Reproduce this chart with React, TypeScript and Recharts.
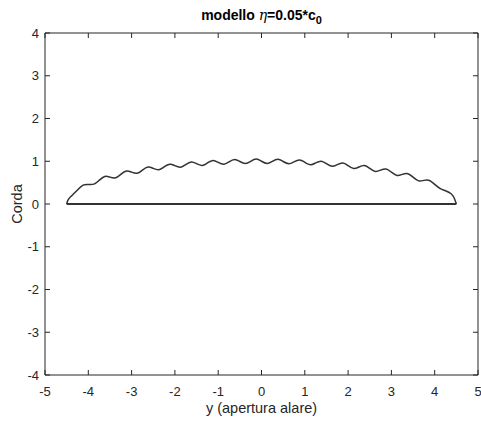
import React from 'react';
import { LineChart, Line, XAxis, YAxis } from 'recharts';

const spanPos = [-4.5, -4.47, -4.42, -4.37, -4.25, -4.12, -4.0, -3.87, -3.75, -3.62, -3.5, -3.37, -3.25, -3.12, -3.0, -2.87, -2.75, -2.62, -2.5, -2.37, -2.25, -2.12, -2.0, -1.87, -1.75, -1.62, -1.5, -1.37, -1.25, -1.12, -1.0, -0.87, -0.75, -0.62, -0.5, -0.37, -0.25, -0.12, 0.0, 0.13, 0.25, 0.38, 0.5, 0.63, 0.75, 0.88, 1.0, 1.13, 1.25, 1.38, 1.5, 1.63, 1.75, 1.88, 2.0, 2.13, 2.25, 2.38, 2.5, 2.63, 2.75, 2.88, 3.0, 3.13, 3.25, 3.38, 3.5, 3.63, 3.75, 3.88, 4.0, 4.13, 4.25, 4.38, 4.45, 4.5];
const chordValues = [0, 0.09, 0.16, 0.205, 0.329, 0.44, 0.458, 0.465, 0.553, 0.644, 0.629, 0.613, 0.692, 0.771, 0.745, 0.72, 0.792, 0.863, 0.832, 0.8, 0.866, 0.932, 0.896, 0.86, 0.921, 0.983, 0.943, 0.903, 0.961, 1.019, 0.975, 0.931, 0.986, 1.041, 0.994, 0.947, 0.998, 1.05, 1.0, 0.95, 0.998, 1.046, 0.994, 0.94, 0.986, 1.031, 0.975, 0.918, 0.961, 1.002, 0.943, 0.882, 0.921, 0.959, 0.896, 0.831, 0.866, 0.899, 0.832, 0.761, 0.792, 0.818, 0.745, 0.669, 0.692, 0.71, 0.629, 0.541, 0.553, 0.55, 0.458, 0.36, 0.31, 0.24, 0.14, 0];
const baseSpan = [-4.5, 4.5];
const baseValues = [0, 0];

const xTicks = [-5, -4, -3, -2, -1, 0, 1, 2, 3, 4, 5];
const yTicks = [-4, -3, -2, -1, 0, 1, 2, 3, 4];

const chordData = spanPos.map((x, i) => ({ x, c: chordValues[i] }));
const baseData = baseSpan.map((x, i) => ({ x, c: baseValues[i] }));

const AX = '#262626';
const FONT = '"Liberation Sans", Arial, Helvetica, sans-serif';
const TL = 5;

const BottomTick = (p: any) => (
  <g>
    <line x1={p.x} x2={p.x} y1={p.y} y2={p.y - TL} stroke={AX} strokeWidth={1} />
    <text x={p.x} y={p.y + 21} textAnchor="middle" fill={AX} fontSize={13} fontFamily={FONT}>
      {p.payload.value}
    </text>
  </g>
);
const TopTick = (p: any) => (
  <line x1={p.x} x2={p.x} y1={p.y} y2={p.y + TL} stroke={AX} strokeWidth={1} />
);
const LeftTick = (p: any) => (
  <g>
    <line x1={p.x} x2={p.x + TL} y1={p.y} y2={p.y} stroke={AX} strokeWidth={1} />
    <text x={p.x - 6} y={p.y + 4.5} textAnchor="end" fill={AX} fontSize={13} fontFamily={FONT}>
      {p.payload.value}
    </text>
  </g>
);
const RightTick = (p: any) => (
  <line x1={p.x} x2={p.x - TL} y1={p.y} y2={p.y} stroke={AX} strokeWidth={1} />
);

export default function App() {
  return (
    <div style={{ position: 'absolute', left: 0, top: 0, width: 481, height: 424, background: '#fff', fontFamily: FONT }}>
      <LineChart width={481} height={424} margin={{ top: 32, right: 2, bottom: 48, left: 0 }}>
        <XAxis xAxisId="b" type="number" dataKey="x" domain={[-5, 5]} ticks={xTicks} allowDataOverflow
          height={1} tickSize={0} tickMargin={0} tick={<BottomTick />} stroke={AX} interval={0} />
        <XAxis xAxisId="t" orientation="top" type="number" dataKey="x" domain={[-5, 5]} ticks={xTicks} allowDataOverflow
          height={1} tickSize={0} tickMargin={0} tick={<TopTick />} stroke={AX} interval={0} />
        <YAxis yAxisId="l" type="number" domain={[-4, 4]} ticks={yTicks} allowDataOverflow
          width={45} tickSize={0} tickMargin={0} tick={<LeftTick />} stroke={AX} interval={0} />
        <YAxis yAxisId="r" orientation="right" type="number" domain={[-4, 4]} ticks={yTicks} allowDataOverflow
          width={1} tickSize={0} tickMargin={0} tick={<RightTick />} stroke={AX} interval={0} />
        <Line xAxisId="b" yAxisId="l" data={baseData} dataKey="c" type="linear" stroke="#333" strokeWidth={2}
          dot={false} isAnimationActive={false} />
        <Line xAxisId="b" yAxisId="l" data={chordData} dataKey="c" type="natural" stroke="#333" strokeWidth={1.5}
          dot={false} isAnimationActive={false} />
        <Line xAxisId="t" yAxisId="r" data={baseData} dataKey="c" stroke="none" dot={false} isAnimationActive={false} />
      </LineChart>
      <div style={{ position: 'absolute', left: 45, width: 433, top: 7, textAlign: 'center', fontWeight: 'bold', fontSize: 14, color: '#000', whiteSpace: 'nowrap' }}>
        modello <i style={{ fontFamily: '"DejaVu Serif", serif', fontWeight: 'normal' }}>η</i>=0.05*c<sub style={{ fontSize: 11, verticalAlign: '-4px' }}>0</sub>
      </div>
      <div style={{ position: 'absolute', left: 45, width: 433, top: 400, textAlign: 'center', fontSize: 14.5, color: AX }}>
        y (apertura alare)
      </div>
      <div style={{ position: 'absolute', left: 17, top: 204, transform: 'translate(-50%, -50%) rotate(-90deg)', fontSize: 14.5, color: AX, whiteSpace: 'nowrap' }}>
        Corda
      </div>
    </div>
  );
}
